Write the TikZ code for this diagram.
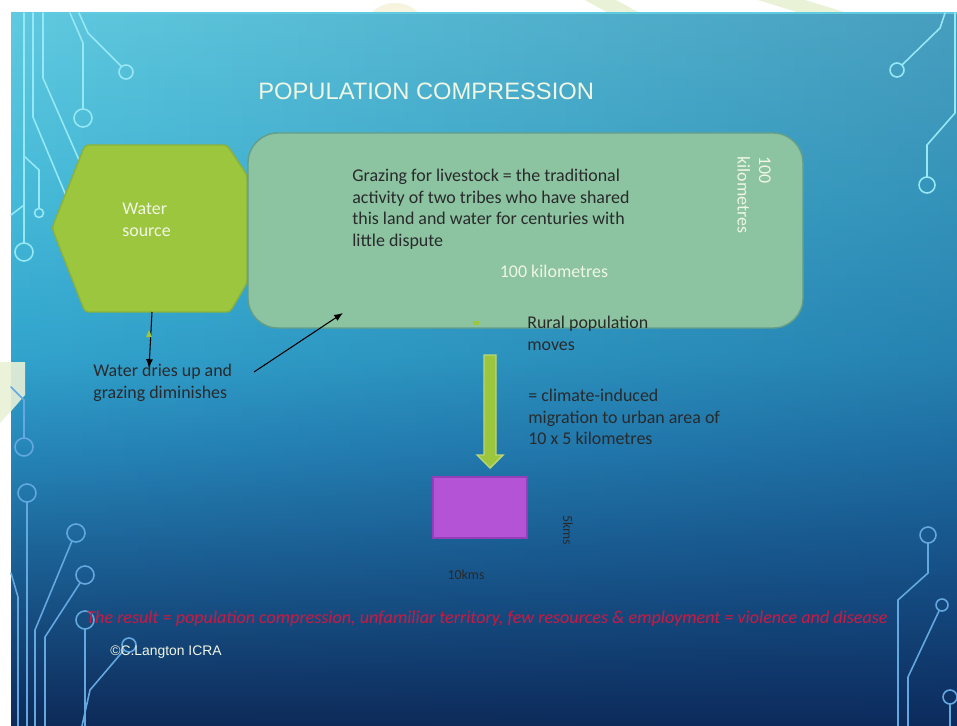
\documentclass[tikz,border=0pt]{standalone}
\usepackage{fontspec}
\setmainfont{Carlito}
\newfontfamily\slidefont{Liberation Sans}
\usetikzlibrary{arrows.meta,fadings}

\definecolor{bgtop}{RGB}{96,202,224}
\definecolor{bglight}{RGB}{70,186,216}
\definecolor{bgmid}{RGB}{50,164,205}
\definecolor{bgdeep}{RGB}{38,132,183}
\definecolor{bglow}{RGB}{28,98,150}
\definecolor{bgnight}{RGB}{20,65,115}
\definecolor{bgbot}{RGB}{14,42,88}
\definecolor{bgdark}{RGB}{8,45,105}
\definecolor{circtop}{RGB}{150,232,245}
\definecolor{circbot}{RGB}{100,168,224}
\definecolor{hexgreen}{RGB}{157,198,63}
\definecolor{hexedge}{RGB}{138,178,58}
\definecolor{boxgreen}{RGB}{140,195,160}
\definecolor{boxedge}{RGB}{98,158,138}
\definecolor{urbanpink}{RGB}{181,83,214}
\definecolor{urbanedge}{RGB}{148,62,186}
\definecolor{txtdark}{RGB}{40,42,44}
\definecolor{txtlight}{RGB}{240,246,228}
\definecolor{resultred}{RGB}{205,25,65}
\definecolor{wmgreen}{RGB}{233,241,215}
\definecolor{wmcream}{RGB}{246,243,222}

\pgfdeclareverticalshading{slidebg}{100bp}{color(0bp)=(bgbot); color(25bp)=(bgbot);
  color(30bp)=(bgnight); color(37bp)=(bglow); color(44bp)=(bgdeep); color(51bp)=(bgmid);
  color(62bp)=(bglight); color(75bp)=(bgtop); color(100bp)=(bgtop)}
\tikzfading[name=fade right, left color=transparent!100, right color=transparent!0]

\begin{document}
\begin{tikzpicture}[x=0.02cm,y=-0.02cm,
    circ/.style={line width=0.9pt, line cap=round},
    body/.style={font=\fontsize{10.2}{12.2}\selectfont, text=txtdark, align=left, inner sep=0pt},
    lighttxt/.style={font=\fontsize{10.2}{12.2}\selectfont, text=txtlight, align=left, inner sep=0pt},
    smalltxt/.style={font=\fontsize{7.9}{9}\selectfont, text=txtdark, inner sep=0pt},
    thinarrow/.style={-{Latex[length=5pt,width=4pt]}, line width=0.6pt, black}]
  \useasboundingbox (0,0) rectangle (957,726);
  \fill[white] (0,0) rectangle (957,726);
  % watermark bits in the margin
  \fill[wmcream] (395,36) circle (33);
  \fill[wmgreen] (585,0) -- (616,0) -- (652,20) -- (621,20) -- cycle;
  \fill[wmgreen] (758,0) -- (805,0) -- (870,20) -- (823,20) -- cycle;

  % slide background
  \shade[shading=slidebg] (11,13) rectangle (957,726);
  \fill[bgdark, path fading=fade right, fill opacity=0.28] (11,13) rectangle (957,726);
  \fill[wmgreen, fill opacity=0.9] (0,362) -- (25,362) -- (25,395) -- (12,410) -- (0,423) -- cycle;

  % circuit lines, top left
  \begin{scope}[circtop, circ]
    \draw (24,13) -- (24,243);
    \draw (24,252) circle (9);
    \draw (24,156) -- (39,170) -- (39,208);
    \draw (39,213) circle (4.5);
    \draw (24,205) -- (11,215);
    \draw (33,13) -- (33,117) -- (72,210);
    \draw (43,13) -- (43,78) -- (90,185);
    \draw (70,13) -- (83,43) -- (83,109);
    \draw (83,118) circle (9);
    \draw (79,13) -- (88,33) -- (121,66);
    \draw (126,72) circle (7);
  \end{scope}
  % circuit lines, bottom left
  \begin{scope}[circbot, circ]
    \draw (11,387) -- (24,400) -- (24,438);
    \draw (24,447) circle (9);
    \draw (27,493) circle (9);
    \draw (27,502) -- (27,726);
    \draw (76,533) circle (9);
    \draw (72,541) -- (35,630) -- (35,726);
    \draw (85,575) circle (9);
    \draw (80,583) -- (45,637) -- (45,726);
    \draw (85,620) circle (9);
    \draw (85,629) -- (85,726);
    \draw (129,645) circle (7);
    \draw (124,650) -- (90,690) -- (82,726);
    \draw (11,573) -- (18,597) -- (18,726);
  \end{scope}
  % circuit lines, right
  \begin{scope}[circtop, circ]
    \draw (955,13) -- (955,113) -- (927,145) -- (927,177);
    \draw (927,185) circle (8);
    \draw (945,13) -- (940,28) -- (902,65);
    \draw (897,70) circle (7);
  \end{scope}
  \begin{scope}[circbot, circ]
    \draw (928,535) circle (8);
    \draw (928,543) -- (928,573) -- (898,600) -- (898,726);
    \draw (942,605) circle (6);
    \draw (939,611) -- (908,677) -- (908,726);
    \draw (950,697) circle (7);
    \draw (950,704) -- (950,726);
  \end{scope}

  \node[font=\slidefont\fontsize{13.5}{15}\selectfont, text=txtlight, anchor=west, inner sep=0pt] (title) at (258,91) {POPULATION COMPRESSION};

  % water source and grazing land
  \filldraw[fill=hexgreen, draw=hexedge, line width=0.8pt, rounded corners=2pt]
    (85,145) -- (227,145) -- (247,175) -- (247,283) -- (230,312) -- (85,312) -- (52,228) -- cycle;
  \node[lighttxt, anchor=north west] (water) at (122,203) {Water\\source};
  \filldraw[fill=boxgreen, draw=boxedge, line width=0.8pt, rounded corners=17pt] (248,133) rectangle (803,328);
  \node[body, anchor=north west] (grazing) at (352,169) {Grazing for livestock = the traditional\\activity of two tribes who have shared\\this land and water for centuries with\\little dispute};
  \node[lighttxt] (wide) at (554,271) {100 kilometres};
  \node[lighttxt, rotate=-90, anchor=north west] (high) at (771,156) {100\\kilometres};

  % drying up
  \node[body, anchor=north west] (dries) at (93,364) {Water dries up and\\grazing diminishes};
  \coordinate (wbot) at (152,312);
  \coordinate (wtip) at (149,368);
  \coordinate (dstart) at (254,372);
  \coordinate (dend) at (343,313);
  \draw[thinarrow] (wbot) -- (wtip);
  \draw[thinarrow] (dstart) -- (dend);
  \fill[hexgreen] (146,337) -- (149,330) -- (152,337) -- cycle;
  \fill[hexgreen] (473,321) rectangle (479,325);

  % migration
  \node[body, anchor=north west] (rural) at (527,316) {Rural population\\moves};
  \filldraw[fill=hexgreen, draw=hexgreen!70!white, line width=0.8pt]
    (484,355) -- (496,355) -- (496,455) -- (503,455) -- (490,468) -- (477,455) -- (484,455) -- cycle;
  \node[body, anchor=north west] (climate) at (528,389) {= climate-induced\\migration to urban area of\\10 x 5 kilometres};
  \filldraw[fill=urbanpink, draw=urbanedge, line width=0.8pt] (433,477) rectangle (527,538);
  \node[smalltxt] (tenkm) at (466,575) {10kms};
  \node[smalltxt, rotate=-90] (fivekm) at (568,530) {5kms};

  \node[font=\itshape\fontsize{10.3}{12}\selectfont, text=resultred, inner sep=0pt] (result) at (487,619) {The result = population compression, unfamiliar territory, few resources \& employment = violence and disease};
  \node[font=\slidefont\fontsize{7.9}{9}\selectfont, text=txtlight, anchor=west, inner sep=0pt] (credit) at (110,652) {©C.Langton ICRA};
\end{tikzpicture}
\end{document}
